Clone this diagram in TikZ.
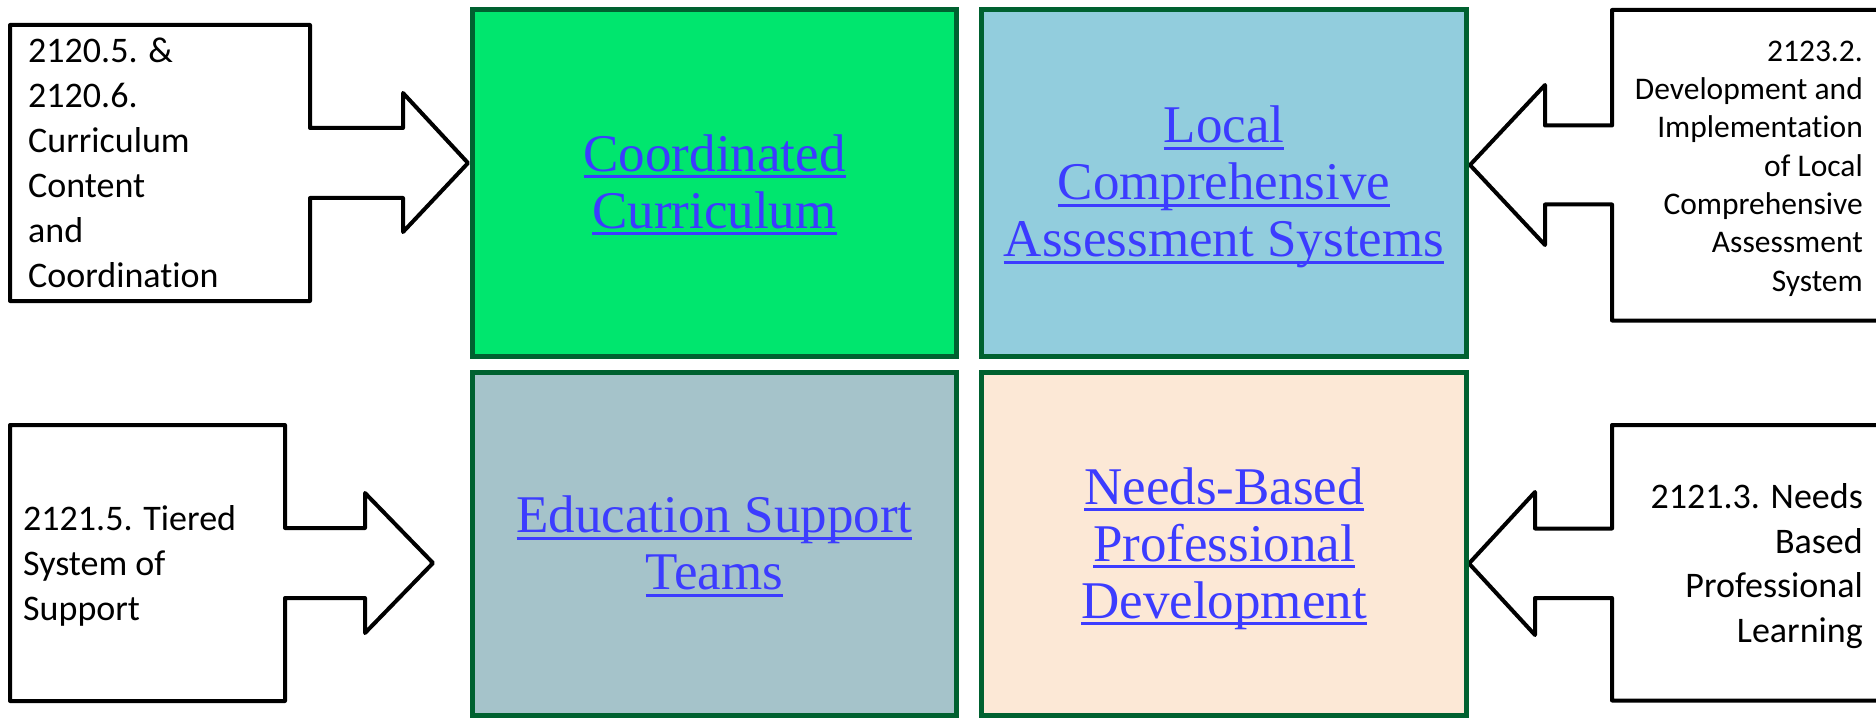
\documentclass[tikz,border=0pt]{standalone}
\usepackage{fontspec}
\setmainfont{Liberation Serif}
\newfontfamily\calfont[Ligatures=NoCommon]{Carlito}
\definecolor{linkblue}{RGB}{60,60,255}
\definecolor{boxgreen}{RGB}{0,230,110}
\definecolor{boxaqua}{RGB}{146,205,221}
\definecolor{boxgrey}{RGB}{165,195,202}
\definecolor{boxpeach}{RGB}{252,232,214}
\definecolor{borderdg}{RGB}{0,97,48}
\newcommand\bstrut{\rule[-11.5pt]{0pt}{57pt}}
\newcommand\cstrut{\rule[-11pt]{0pt}{45pt}}
\newcommand\estrut{\rule[-10.5pt]{0pt}{44.5pt}}
\newcommand\dstrut{\rule[-8.3pt]{0pt}{38.3pt}}
\newsavebox\lnkbox
\newcommand\lnk[1]{\sbox\lnkbox{#1}\rlap{\rule[-7pt]{\wd\lnkbox}{3pt}}\usebox\lnkbox}
\begin{document}
\begin{tikzpicture}[x=1pt,y=-1pt,
  mainbox/.style={draw=borderdg, line width=5pt, inner sep=0pt, align=center,
    text=linkblue, font=\fontsize{53}{57}\selectfont},
  callout/.style={draw=black, line width=4pt, line join=round, fill=white},
  ctext/.style={inner sep=0pt, text=black, font=\calfont\fontsize{36}{45}\selectfont}]
\useasboundingbox (0,0) rectangle (1876,719);
% callout arrows
\draw[callout] (10,25) -- (310,25) -- (310,128) -- (403,128) -- (403,93) -- (468,163)
  -- (403,232) -- (403,198) -- (310,198) -- (310,301) -- (10,301) -- cycle;
\draw[callout] (1895,10) -- (1612,10) -- (1612,125.5) -- (1545,125.5) -- (1545,85) -- (1470,165)
  -- (1545,245) -- (1545,204.5) -- (1612,204.5) -- (1612,320.5) -- (1895,320.5);
\draw[callout] (10,425) -- (285,425) -- (285,528) -- (365,528) -- (365,493) -- (433,563)
  -- (365,633) -- (365,598) -- (285,598) -- (285,701) -- (10,701) -- cycle;
\draw[callout] (1895,425) -- (1612,425) -- (1612,528.5) -- (1535,528.5) -- (1535,492) -- (1469,563.5)
  -- (1535,635) -- (1535,598) -- (1612,598) -- (1612,700.5) -- (1895,700.5);
% central boxes
\node[mainbox, fill=boxgreen, minimum width=484pt, minimum height=347pt] (cc) at (714.5,183)
  {\bstrut\lnk{Coordinated}\\\bstrut\lnk{Curriculum}};
\node[mainbox, fill=boxaqua, minimum width=485pt, minimum height=347pt] (lc) at (1224,183)
  {\bstrut\lnk{Local}\\\bstrut\lnk{Comprehensive}\\\bstrut\lnk{Assessment Systems}};
\node[mainbox, fill=boxgrey, minimum width=484pt, minimum height=343pt] (es) at (714.5,544)
  {\bstrut\lnk{Education Support}\\\bstrut\lnk{Teams}};
\node[mainbox, fill=boxpeach, minimum width=485pt, minimum height=343pt] (np) at (1224,544)
  {\bstrut\lnk{Needs-Based}\\\bstrut\lnk{Professional}\\\bstrut\lnk{Development}};
% callout texts
\node[ctext, anchor=north west, align=left] (tlt) at (28,28.7)
  {\cstrut 2120.5. \&\\\cstrut 2120.6.\\\cstrut Curriculum\\\cstrut Content\\\cstrut and\\\cstrut Coordination};
\node[ctext, anchor=north east, align=right, font=\calfont\fontsize{31.5}{38.3}\selectfont] (trt) at (1863,31)
  {\dstrut 2123.2.\\\dstrut Development and\\\dstrut Implementation\\\dstrut of Local\\\dstrut Comprehensive\\\dstrut Assessment\\\dstrut System};
\node[ctext, anchor=north west, align=left] (blt) at (23,496)
  {\cstrut 2121.5. Tiered\\\cstrut System of\\\cstrut Support};
\node[ctext, anchor=north east, align=right, font=\calfont\fontsize{36}{44.5}\selectfont] (brt) at (1863,474.3)
  {\estrut 2121.3. Needs\\\estrut Based\\\estrut Professional\\\estrut Learning};
\end{tikzpicture}
\end{document}
